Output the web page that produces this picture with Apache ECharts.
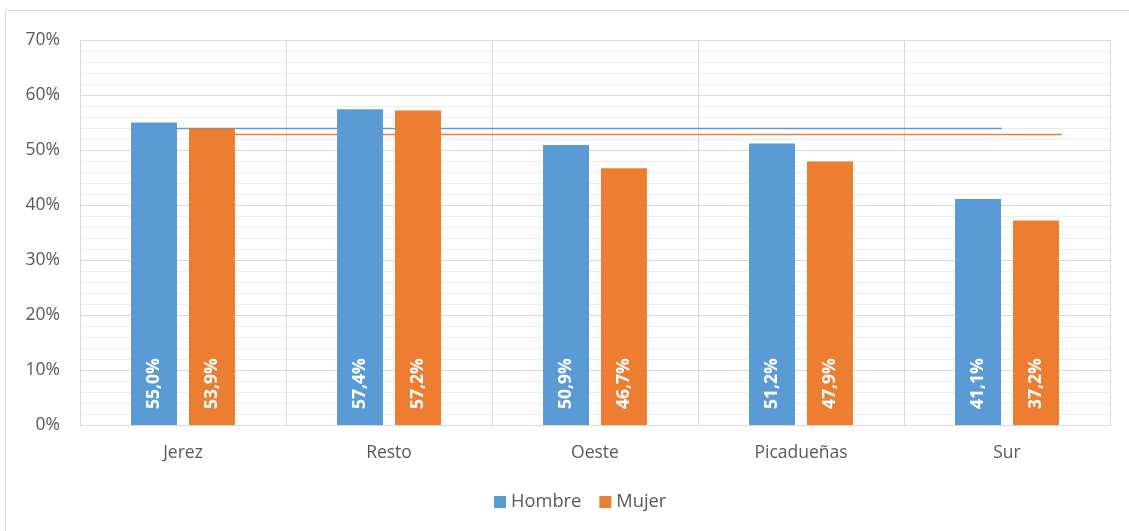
<!DOCTYPE html>
<html><head><meta charset="utf-8">
<script src="https://cdn.jsdelivr.net/npm/echarts@6/dist/echarts.min.js"></script>
<style>html,body{margin:0;padding:0;background:#fff}#c{width:1129px;height:531px}</style>
</head><body><div id="c"></div>
<script>
const categories = ['Jerez','Resto','Oeste','Picadueñas','Sur'];
const hombre = [55.0, 57.4, 50.9, 51.2, 41.1];
const mujer = [53.9, 57.2, 46.7, 47.9, 37.2];
const avgHombre = 53.9;
const avgMujer = 52.8;
// horizontal extent of the average lines, in category units (0 = left edge of Jerez, 5 = right edge of Sur)
const avgHombreSpan = [0.36, 4.476];
const avgMujerSpan = [0.64, 4.767];
const yTicks = [0,10,20,30,40,50,60,70];

const FONT = 'Open Sans';
const chart = echarts.init(document.getElementById('c'), null, {renderer:'canvas'});
const fmt = v => v.toFixed(1).replace('.', ',') + '%';
const lbl = {
  show: true, position: 'insideBottom', rotate: 90, align: 'left', verticalAlign: 'middle',
  distance: 16, color: '#fff', fontWeight: 'bold', fontSize: 17.5, fontFamily: FONT,
  formatter: p => fmt(p.value)
};
chart.setOption({
  animation: false,
  textStyle: {fontFamily: FONT},
  graphic: [{type:'rect', shape:{x:5.5,y:10.5,width:1300,height:700}, style:{fill:'none', stroke:'#d9d9d9', lineWidth:1}, silent:true, z:-10}],
  grid: {left: 80, right: 19, top: 40, bottom: 106, containLabel: false},
  legend: {
    data: ['Hombre','Mujer'], bottom: 15, left: 489, itemWidth: 12, itemHeight: 12, itemGap: 18,
    icon: 'rect', textStyle: {fontSize: 18.3, color: '#595959', fontFamily: FONT}
  },
  xAxis: [{
    type: 'category', data: categories,
    axisLine: {show: true, lineStyle: {color: '#d9d9d9'}}, axisTick: {show: false},
    splitLine: {show: true, lineStyle: {color: '#d9d9d9', width: 1}},
    axisLabel: {fontSize: 17.5, color: '#595959', margin: 19, fontFamily: FONT}
  }, {
    type: 'value', min: 0, max: 5, show: false
  }],
  yAxis: {
    type: 'value', min: yTicks[0], max: yTicks[yTicks.length-1], interval: 10,
    axisLine: {show: false}, axisTick: {show: false},
    axisLabel: {formatter: '{value}%', fontSize: 17.5, color: '#595959', margin: 20, fontFamily: FONT},
    splitLine: {show: true, lineStyle: {color: '#d9d9d9', width: 1}},
    minorTick: {show: false, splitNumber: 5},
    minorSplitLine: {show: true, lineStyle: {color: '#ededed', width: 1}}
  },
  series: [
    {name:'Hombre', type:'bar', data: hombre, barWidth: 46, barGap: '26%', itemStyle:{color:'#5b9bd5'}, label: lbl, z: 3},
    {name:'Mujer', type:'bar', data: mujer, barWidth: 46, itemStyle:{color:'#ed7d31'}, label: lbl, z: 3},
    {name:'avgH', type:'line', xAxisIndex: 1, data: avgHombreSpan.map(x => [x, avgHombre]), symbol:'none',
     lineStyle:{color:'#5b9bd5', width:1.5}, z: 1, silent: true},
    {name:'avgM', type:'line', xAxisIndex: 1, data: avgMujerSpan.map(x => [x, avgMujer]), symbol:'none',
     lineStyle:{color:'#ed7d31', width:1.5}, z: 1, silent: true}
  ]
});
</script></body></html>
